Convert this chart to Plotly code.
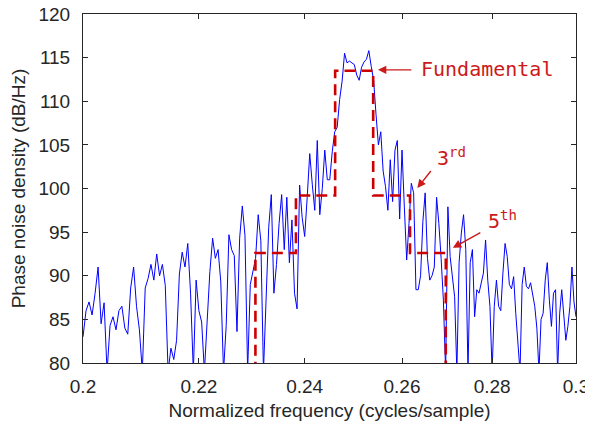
import math
import numpy as np
import plotly.graph_objects as go

# Normalized frequency grid (cycles/sample)
freq = np.round(np.linspace(0.2, 0.3, 201), 4)

# Phase noise density (dB/Hz)
psd = [
    83.0, 86.0, 87.0, 85.5, 88.0, 91.0, 84.5, 86.9, 79.0, 84.3,
    85.3, 83.8, 86.0, 86.5, 84.0, 83.3, 88.6, 91.0, 86.5, 83.8,
    79.0, 88.6, 89.7, 91.3, 89.5, 92.5, 90.0, 91.3, 88.9, 79.0,
    81.7, 80.4, 82.6, 90.2, 92.7, 91.0, 93.7, 88.0, 79.0, 89.5,
    86.0, 84.7, 79.0, 85.3, 90.5, 94.3, 92.0, 93.0, 89.3, 79.0,
    84.3, 94.7, 93.0, 92.3, 83.6, 94.3, 98.0, 94.6, 79.0, 89.0,
    90.5, 92.0, 97.0, 94.0, 79.0, 87.5, 95.5, 99.3, 88.0, 91.3,
    96.0, 99.3, 93.0, 99.0, 91.5, 96.4, 88.0, 86.2, 100.4, 96.7,
    94.5, 99.0, 104.0, 100.5, 97.5, 105.5, 97.0, 100.0, 104.4, 101.0,
    101.0, 104.2, 106.5, 107.0, 110.2, 112.3, 115.5, 114.4, 114.6, 114.4,
    114.2, 113.0, 112.4, 113.9, 114.5, 114.8, 115.8, 114.0, 112.4, 108.5,
    105.0, 106.5, 102.0, 100.2, 97.5, 103.3, 98.5, 104.4, 105.5, 96.5,
    104.4, 97.9, 91.8, 96.0, 100.6, 99.5, 88.4, 88.4, 90.0, 96.2,
    99.5, 92.0, 89.5, 90.0, 91.0, 99.0, 96.0, 92.0, 87.2, 79.0,
    97.9, 92.2, 89.5, 87.6, 79.0, 91.5, 94.9, 97.0, 93.0, 79.0,
    91.5, 93.0, 85.3, 88.4, 88.0, 89.1, 90.3, 94.1, 89.5, 86.5,
    79.0, 86.5, 89.5, 86.5, 86.0, 90.3, 93.7, 92.2, 89.0, 88.5,
    89.9, 85.7, 82.0, 79.0, 89.0, 91.0, 88.8, 88.5, 89.2, 88.0,
    86.5, 84.0, 79.0, 85.0, 85.7, 89.5, 91.5, 87.2, 84.2, 88.0,
    88.4, 79.0, 85.7, 88.4, 84.9, 82.6, 84.2, 86.5, 91.0, 87.0, 85.3,
]

# Harmonic band edges and levels (red dashed steps)
band_edges = [0.23047, 0.23828, 0.24609, 0.25391, 0.26172, 0.26953]
level_fund = 113.5
level_3rd = 99.2
level_5th = 92.6
level_floor = 75.0

step_x = [band_edges[0], band_edges[0], band_edges[1], band_edges[1],
          band_edges[2], band_edges[2], band_edges[3], band_edges[3],
          band_edges[4], band_edges[4], band_edges[5], band_edges[5]]
step_y = [level_floor, level_5th, level_5th, level_3rd, level_3rd, level_fund,
          level_fund, level_3rd, level_3rd, level_5th, level_5th, level_floor]

x_ticks = [0.2, 0.22, 0.24, 0.26, 0.28, 0.3]
x_tick_text = ["0.2", "0.22", "0.24", "0.26", "0.28", "0.3"]
y_ticks = [80, 85, 90, 95, 100, 105, 110, 115, 120]

RED = "#cc0000"
TXT_RED = "#cc1a1a"
AX = "#262626"

fig = go.Figure()
fig.add_trace(go.Scatter(x=freq, y=psd, mode="lines",
                         line=dict(color="#0000ff", width=1), showlegend=False))
fig.add_trace(go.Scatter(x=step_x, y=step_y, mode="lines",
                         line=dict(color=RED, width=2.6, dash="11px,6px"),
                         showlegend=False))

L = math.log10
mono = dict(family="DejaVu Sans Mono", size=20, color=TXT_RED)
arrow = dict(xref="x", yref="y", showarrow=True, arrowhead=2, arrowsize=1.2,
             arrowwidth=1.4, arrowcolor=TXT_RED, font=dict(size=1))

annotations = [
    # arrows
    dict(x=L(0.2549), y=113.6, text=" ", ax=35, ay=0, **arrow),
    dict(x=L(0.2633), y=100.05, text=" ", ax=15, ay=-19, **arrow),
    dict(x=L(0.2711), y=93.2, text=" ", ax=29, ay=-16, **arrow),
    # labels
    dict(x=L(0.2636), y=113.7, xref="x", yref="y", text="Fundamental",
         showarrow=False, xanchor="left", yanchor="middle", font=mono),
    dict(x=L(0.2671), y=103.6, xref="x", yref="y", text="3<sup>rd</sup>",
         showarrow=False, xanchor="left", yanchor="middle", font=mono),
    dict(x=L(0.2785), y=96.4, xref="x", yref="y", text="5<sup>th</sup>",
         showarrow=False, xanchor="left", yanchor="middle", font=mono),
]

axis_common = dict(showline=True, linecolor=AX, linewidth=1, mirror="ticks",
                   ticks="inside", ticklen=5, tickcolor=AX, showgrid=False,
                   zeroline=False, automargin=False, ticklabeloverflow="allow",
                   tickfont=dict(family="Liberation Sans, Arial", size=19, color=AX))

# page body has an 8px margin, so the figure is sized to fit the 593x424 window
fig.update_layout(
    width=585, height=416,
    margin=dict(l=75, r=17, t=6, b=61),
    paper_bgcolor="white", plot_bgcolor="white",
    annotations=annotations,
    font=dict(family="Liberation Sans, Arial", size=19, color=AX),
)
fig.update_xaxes(type="log", range=[L(0.2), L(0.3)], tickvals=x_ticks, ticktext=x_tick_text,
                 ticklabelstandoff=6,
                 title=dict(text="Normalized frequency (cycles/sample)", standoff=7,
                            font=dict(size=19, color=AX)),
                 **axis_common)
fig.update_yaxes(range=[80, 120], tickvals=y_ticks, ticklabelstandoff=8,
                 title=dict(text="Phase noise density (dB/Hz)", standoff=11,
                            font=dict(size=19, color=AX)),
                 **axis_common)

fig.write_html("out.html")
